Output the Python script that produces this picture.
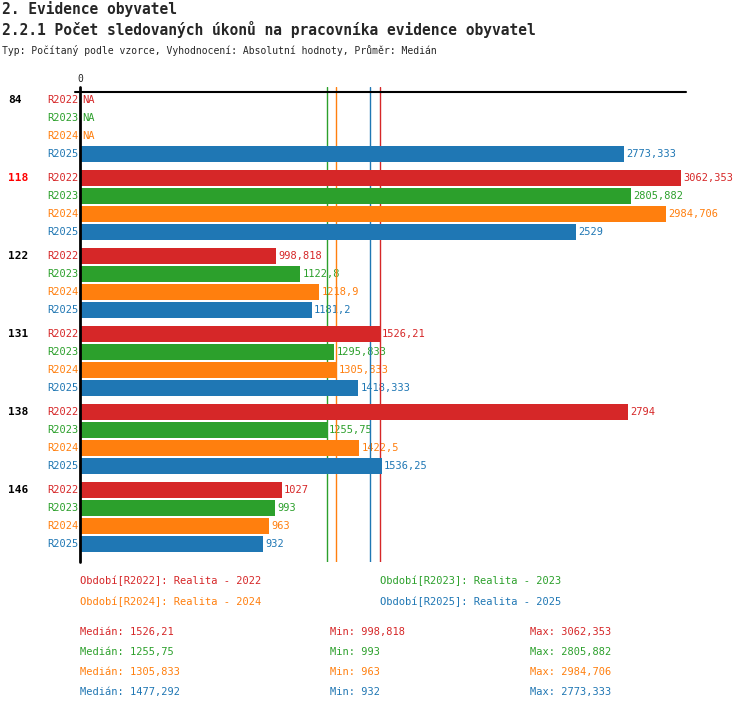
import numpy as np, pandas as pd, matplotlib
matplotlib.use("Agg")
import matplotlib.pyplot as plt, seaborn as sns

groups = ["84", "118", "122", "131", "138", "146"]
series = ["R2022", "R2023", "R2024", "R2025"]
colors = ["#d62728", "#2ca02c", "#ff7f0e", "#1f77b4"]
values = {
    "R2022": [np.nan, 3062.353, 998.818, 1526.21, 2794, 1027],
    "R2023": [np.nan, 2805.882, 1122.8, 1295.833, 1255.75, 993],
    "R2024": [np.nan, 2984.706, 1218.9, 1305.833, 1422.5, 963],
    "R2025": [2773.333, 2529, 1181.2, 1418.333, 1536.25, 932],
}
medians = [1526.21, 1255.75, 1305.833, 1477.292]
mins = [998.818, 993, 963, 932]
maxs = [3062.353, 2805.882, 2984.706, 2773.333]
legend_names = ["Období[R2022]: Realita - 2022", "Období[R2023]: Realita - 2023",
                "Období[R2024]: Realita - 2024", "Období[R2025]: Realita - 2025"]

def fmt(v):
    return ("%.3f" % v).rstrip("0").rstrip(".").replace(".", ",")

rows = []
for gi, g in enumerate(groups):
    for si, s in enumerate(series):
        rows.append(dict(group=g, series=s, value=values[s][gi], pos=100 + 78 * gi + 18 * si))
df = pd.DataFrame(rows)

sns.set_style("white")
plt.rcParams["font.family"] = ["DejaVu Sans Mono"]
W, H = 750, 710
fig = plt.figure(figsize=(7.5, 7.1), dpi=100)
ov = fig.add_axes([0, 0, 1, 1]); ov.set_xlim(0, W); ov.set_ylim(H, 0); ov.axis("off")
scale = 0.1963
ax = fig.add_axes([80 / W, (H - 562) / H, 606 / W, 475 / H])
ax.set_zorder(1); ax.patch.set_alpha(0)
sns.barplot(data=df.dropna(), x="value", y="pos", hue="series", hue_order=series,
            palette=colors, orient="h", native_scale=True, dodge=False, width=16/18,
            legend=False, ax=ax, saturation=1, linewidth=0, zorder=3)
ax.set_xlim(0, 606 / scale); ax.set_ylim(562, 87)
ax.axis("off")
for m, c in zip(medians, colors):
    ax.axvline(m, color=c, lw=1, zorder=1)
ax.plot([0, 0], [87, 562], color="black", lw=2, zorder=5, clip_on=False)
ax.plot([-5 / scale, 606 / scale], [92, 92], color="black", lw=1.5, zorder=5, clip_on=False)
ax.text(0, 84, "0", ha="center", va="bottom", fontsize=7)

for _, r in df.iterrows():
    si = series.index(r.series); c = colors[si]
    ov.text(78, r.pos, r.series, ha="right", va="center", color=c, fontsize=7.5)
    if np.isnan(r.value):
        ov.text(82, r.pos, "NA", ha="left", va="center", color=c, fontsize=7.5)
    else:
        ov.text(80 + r.value * scale + 2, r.pos, fmt(r.value), ha="left", va="center", color=c, fontsize=7.5)
for gi, g in enumerate(groups):
    ov.text(8, 100 + 78 * gi, g, ha="left", va="center", fontsize=8, fontweight="bold",
            color="#ff0000" if g == "118" else "black")

ov.text(2, 9, "2. Evidence obyvatel", fontsize=10.5, fontweight="bold", va="center")
ov.text(2, 30, "2.2.1 Počet sledovaných úkonů na pracovníka evidence obyvatel", fontsize=10.5, fontweight="bold", va="center")
ov.text(2, 50, "Typ: Počítaný podle vzorce, Vyhodnocení: Absolutní hodnoty, Průměr: Medián", fontsize=7, va="center")

for i, (n, c) in enumerate(zip(legend_names, colors)):
    ov.text([80, 380][i % 2], [581, 602][i // 2], n, color=c, fontsize=7.5, va="center")
for i, c in enumerate(colors):
    y = 632 + 20 * i
    ov.text(80, y, "Medián: " + fmt(medians[i]), color=c, fontsize=7.5, va="center")
    ov.text(330, y, "Min: " + fmt(mins[i]), color=c, fontsize=7.5, va="center")
    ov.text(530, y, "Max: " + fmt(maxs[i]), color=c, fontsize=7.5, va="center")

fig.savefig("out.png", dpi=100)
